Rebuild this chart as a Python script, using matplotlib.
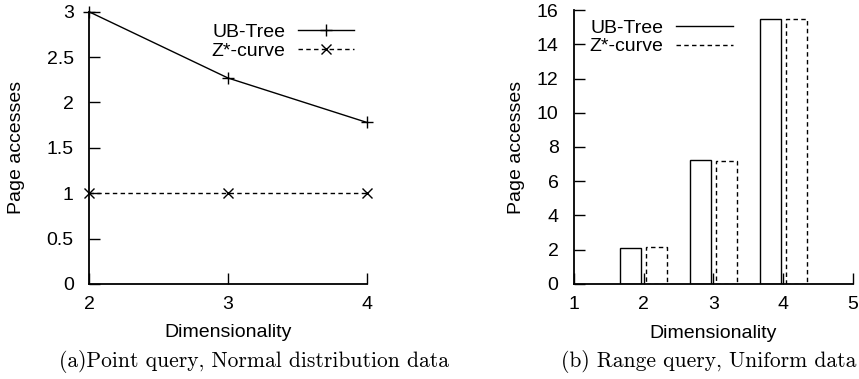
import matplotlib
matplotlib.use("Agg")
import matplotlib.pyplot as plt
from matplotlib.lines import Line2D
from matplotlib.ticker import FuncFormatter
import numpy as np

# point query (normal distribution data)
dims_point = [2, 3, 4]
ub_point = [3.0, 2.27, 1.78]
z_point = [1.0, 1.0, 1.0]

# range query (uniform data)
dims_range = [2, 3, 4]
ub_range = [2.12, 7.25, 15.5]
z_range = [2.18, 7.21, 15.5]

series_names = ["UB-Tree", "Z*-curve"]
xlabel = "Dimensionality"
ylabel = "Page accesses"
caption_a = "(a)Point query, Normal distribution data"
caption_b = "(b) Range query, Uniform data"

plt.rcParams['font.family'] = ['Liberation Sans', 'DejaVu Sans']
fs = 14
dash = (0, (3.2, 2.4))

fig = plt.figure(figsize=(8.59, 3.79), dpi=100)
ax1 = fig.add_axes([0.1036, 0.2507, 0.3236, 0.7183])
ax2 = fig.add_axes([0.668, 0.2507, 0.3247, 0.7229])


def style(ax, ylab_x):
    for s in ['top', 'right']:
        ax.spines[s].set_visible(False)
    for s in ['left', 'bottom']:
        ax.spines[s].set_linewidth(1.3)
    ax.tick_params(direction='in', length=8, width=1, labelsize=fs)
    ax.tick_params(axis='x', pad=9)
    ax.tick_params(axis='y', pad=11)
    ax.yaxis.set_major_formatter(FuncFormatter(lambda v, p: '%g' % v))
    ax.set_xlabel(xlabel, fontsize=fs)
    ax.set_ylabel(ylabel, fontsize=fs)
    ax.xaxis.set_label_coords(0.5, -0.148)
    ax.yaxis.set_label_coords(ylab_x, 0.5)


# left: lines
ax1.plot(dims_point, ub_point, color='black', lw=1, marker='+', ms=8,
         mew=1, label=series_names[0], clip_on=False)
ax1.plot(dims_point, z_point, color='black', lw=1, ls=dash, marker='x', ms=7,
         mew=1, label=series_names[1], clip_on=False)
ax1.set_xlim(2, 4)
ax1.set_ylim(0, 3)
ax1.set_xticks([2, 3, 4])
ax1.set_yticks(np.arange(0, 3.01, 0.5))
style(ax1, -0.23)
ax1.legend(loc='upper right', bbox_to_anchor=(0.982, 0.985), frameon=False,
           markerfirst=False, handlelength=2.9, handletextpad=0.65,
           labelspacing=0.05, fontsize=fs, borderaxespad=0)

# right: bars
w = 0.3
x = np.array(dims_range)
ax2.bar(x - 0.185, ub_range, width=w, facecolor='none', edgecolor='black',
        lw=1)
ax2.bar(x + 0.19, z_range, width=w, facecolor='none', edgecolor='black',
        lw=1, ls=dash)
ax2.set_xlim(1, 5)
ax2.set_ylim(0, 16)
ax2.set_xticks([1, 2, 3, 4, 5])
ax2.set_yticks(range(0, 17, 2))
style(ax2, -0.176)
handles = [Line2D([], [], color='black', lw=1),
           Line2D([], [], color='black', lw=1, ls=dash)]
ax2.legend(handles, series_names, loc='upper left',
           bbox_to_anchor=(0.029, 0.995), frameon=False, markerfirst=False,
           handlelength=2.9, handletextpad=0.65, labelspacing=0.05,
           fontsize=fs, borderaxespad=0)

fig.text(0.296, 0.045, caption_a, ha='center', va='center', fontsize=15.5,
         family='cmr10')
fig.text(0.825, 0.045, caption_b, ha='center', va='center', fontsize=15.5,
         family='cmr10')

fig.savefig('out.png', dpi=100)
